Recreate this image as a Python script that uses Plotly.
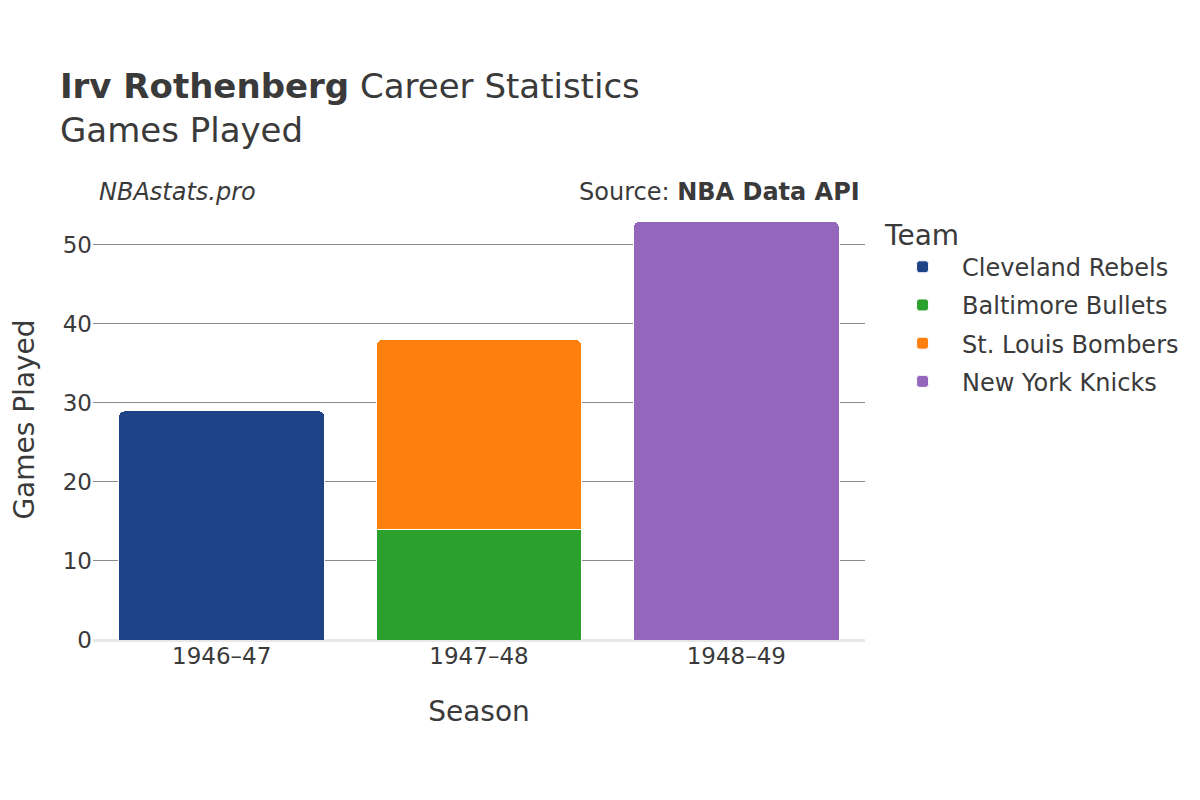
import plotly.graph_objects as go

seasons = ["1946–47", "1947–48", "1948–49"]
teams = ["Cleveland Rebels", "Baltimore Bullets", "St. Louis Bombers", "New York Knicks"]
colors = ["#1f4387", "#2ca02c", "#ff7f0e", "#9467bd"]
games = {
    "Cleveland Rebels": [29, None, None],
    "Baltimore Bullets": [None, 14, None],
    "St. Louis Bombers": [None, 24, None],
    "New York Knicks": [None, None, 53],
}
y_ticks = [0, 10, 20, 30, 40, 50]

FONT = "DejaVu Sans"
fig = go.Figure()
for team, col in zip(teams, colors):
    fig.add_trace(go.Bar(
        x=seasons, y=games[team], name=team, legendgroup=team,
        marker=dict(color=col, line=dict(color="white", width=1)),
    ))

fig.update_layout(
    barmode="stack",
    bargap=0.2,
    barcornerradius=6,
    width=1200, height=800,
    paper_bgcolor="white", plot_bgcolor="white",
    font=dict(family=FONT, color="#3a3a3a", size=24),
    margin=dict(l=85, r=343, t=191, b=168, autoexpand=False),
    title=dict(
        text="<b>Irv Rothenberg</b> Career Statistics<br>Games Played",
        x=0.0433, xref="container", xanchor="left",
        y=0.8875, yref="container", yanchor="top",
        font=dict(size=34, family=FONT, color="#3a3a3a"),
    ),
    xaxis=dict(
        title=dict(text="Season", font=dict(size=28), standoff=33),
        tickfont=dict(size=23), showgrid=False, zeroline=False,
        showline=False, ticks="", automargin=False,
    ),
    yaxis=dict(
        title=dict(text="Games Played", font=dict(size=28), standoff=32),
        range=[0, 55.8], tickvals=y_ticks, tickfont=dict(size=23),
        showgrid=True, gridcolor="#8a8a8a", gridwidth=1,
        zeroline=True, zerolinecolor="#e8e8e8", zerolinewidth=3,
        ticks="", automargin=False,
    ),
    legend=dict(
        title=dict(text="Team", font=dict(size=28)),
        font=dict(size=24),
        traceorder="grouped",
        x=1.0234, xanchor="left", y=0.979, yanchor="top",
        itemwidth=69, tracegroupgap=4,
    ),
    annotations=[
        dict(text="<i>NBAstats.pro</i>", xref="paper", yref="paper",
             x=0.005, y=1.016, xanchor="left", yanchor="middle",
             showarrow=False, font=dict(size=24, color="#3a3a3a")),
        dict(text="Source: <b>NBA Data API</b>", xref="paper", yref="paper",
             x=0.996, y=1.016, xanchor="right", yanchor="middle",
             showarrow=False, font=dict(size=24, color="#3a3a3a")),
    ],
)

fig.write_html("out.html")
